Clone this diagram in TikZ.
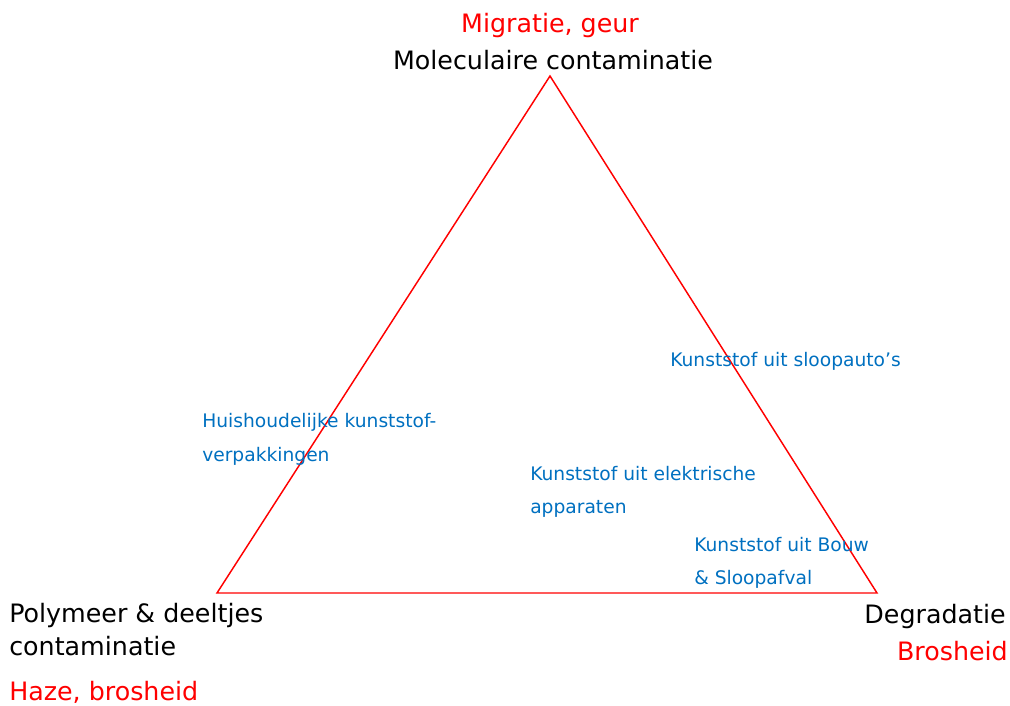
\documentclass[tikz,border=0pt]{standalone}
\usepackage{fontspec}
\setmainfont{DejaVu Sans}
\definecolor{lblblue}{RGB}{0,112,192}
\definecolor{lblred}{RGB}{255,0,0}
\begin{document}
\begin{tikzpicture}[x=0.75pt,y=-0.75pt,
  big/.style={font=\fontsize{19}{23}\selectfont,inner sep=0pt},
  small/.style={font=\fontsize{14}{17}\selectfont,inner sep=0pt,text=lblblue},
  tri/.style={draw=lblred,line width=1.1pt,line join=miter}]
\useasboundingbox (0,0) rectangle (1010,706);
\coordinate (T) at (550,76);
\coordinate (L) at (217,593);
\coordinate (R) at (877,593);
\draw[tri] (T) -- (L) -- (R) -- cycle;
% top
\node[big,text=lblred,anchor=base] (mig) at (550,33) {Migratie, geur};
\node[big,anchor=base] (mol) at (553,70) {Moleculaire contaminatie};
% bottom left
\node[big,anchor=base west] (poly1) at (9,622) {Polymeer \& deeltjes};
\node[big,anchor=base west] (poly2) at (9,655) {contaminatie};
\node[big,text=lblred,anchor=base west] (haze) at (9,700) {Haze, brosheid};
% bottom right
\node[big,anchor=base east] (deg) at (1006,623) {Degradatie};
\node[big,text=lblred,anchor=base east] (bros) at (1008,660) {Brosheid};
% blue labels
\node[small,anchor=base west] (hh1) at (202,427) {Huishoudelijke kunststof-};
\node[small,anchor=base west] (hh2) at (202,461) {verpakkingen};
\node[small,anchor=base west] (auto) at (670,366) {Kunststof uit sloopauto’s};
\node[small,anchor=base west] (el1) at (530,480) {Kunststof uit elektrische};
\node[small,anchor=base west] (el2) at (530,513) {apparaten};
\node[small,anchor=base west] (bw1) at (694,551) {Kunststof uit Bouw};
\node[small,anchor=base west] (bw2) at (694,584) {\& Sloopafval};
\end{tikzpicture}
\end{document}
